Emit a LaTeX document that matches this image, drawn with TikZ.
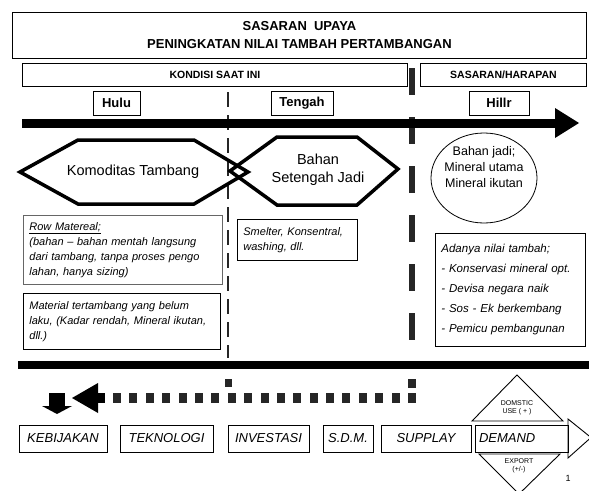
\documentclass[tikz,border=0pt]{standalone}
\usepackage{fontspec}
\setmainfont{Liberation Sans}
\usetikzlibrary{shapes.geometric}
\begin{document}
\begin{tikzpicture}[x=1pt,y=-1pt,
  thinbox/.style={draw, line width=0.9pt, inner sep=0pt},
  hdrtxt/.style={font=\bfseries\fontsize{10.5}{12}\selectfont},
  tagbox/.style={draw, line width=0.9pt, font=\bfseries\fontsize{13}{15}\selectfont, minimum height=24, inner sep=0pt},
  hexline/.style={line width=3.5pt, line join=miter},
  notebox/.style={draw, line width=0.8pt, font=\itshape\fontsize{11}{15}\selectfont, align=left, anchor=north west, inner xsep=6pt, inner ysep=0pt},
  botbox/.style={draw, line width=0.9pt, font=\itshape\fontsize{13}{15}\selectfont, minimum height=27, inner sep=0pt},
  smalltxt/.style={font=\fontsize{7}{8.5}\selectfont, align=center, inner sep=0pt},
  sq/.style={fill=black!85}
]
\useasboundingbox (0,0) rectangle (589,490);

% title
\node[thinbox, anchor=north west, minimum width=574, minimum height=46, align=center,
      font=\bfseries\fontsize{13}{18}\selectfont] (title) at (12,12)
      {SASARAN\ \ UPAYA\\PENINGKATAN NILAI TAMBAH PERTAMBANGAN};

% headers
\node[thinbox, hdrtxt, anchor=north west, minimum width=385, minimum height=23] (kondisi) at (22,63) {KONDISI SAAT INI};
\node[thinbox, hdrtxt, anchor=north west, minimum width=166, minimum height=23] (sasaran) at (420,63) {SASARAN/HARAPAN};

% dashed separators
\coordinate (d1top) at (228,92);
\coordinate (d1bot) at (228,358);
\coordinate (d2top) at (412,68);
\coordinate (d2bot) at (412,345);
\draw[line width=2.8pt, black!85, dash pattern=on 15pt off 8pt] (d1top) -- (d1bot);
\draw[line width=6pt, black!85, dash pattern=on 27pt off 22pt] (d2top) -- (d2bot);

% stage tags
\node[tagbox, fill=white, minimum width=47] (hulu) at (116.5,103) {Hulu};
\node[tagbox, fill=white, minimum width=62] (tengah) at (302,103) {Tengah};
\node[tagbox, fill=white, minimum width=60] (hilir) at (499,103) {Hillr};

% main arrow
\coordinate (mastart) at (22,123);
\coordinate (maend) at (557,123);
\draw[line width=9pt] (mastart) -- (maend);
\fill (555,108) -- (579,123) -- (555,138) -- cycle;

% hexagons
\draw[hexline] (20,172) -- (78,140) -- (194,140) -- (248,172) -- (194,204) -- (78,204) -- cycle;
\draw[hexline] (230,171) -- (277,137) -- (357,137) -- (398,169) -- (357,205) -- (277,205) -- cycle;
\node[font=\fontsize{14.5}{17}\selectfont] (komoditas) at (133,172) {Komoditas Tambang};
\node[font=\fontsize{14.5}{18}\selectfont, align=center] (setengah) at (318,170) {Bahan\\Setengah Jadi};

% ellipse
\node[draw, ellipse, line width=0.8pt, minimum width=106, minimum height=90, inner sep=0pt] (jadi) at (484,178) {};
\node[font=\fontsize{12.5}{16}\selectfont, align=center] (jaditxt) at (484,167) {Bahan jadi;\\Mineral utama\\Mineral ikutan};

% note boxes
\node[notebox, draw=black!60, text width=187, minimum height=69] (raw) at (23,215)
  {\underline{Row Matereal;}\\(bahan -- bahan mentah langsung\\dari tambang, tanpa proses pengo\\lahan, hanya sizing)};
\node[notebox, text width=185, minimum height=56] (material) at (23,293)
  {Material tertambang yang belum\\laku, (Kadar rendah, Mineral ikutan,\\dll.)};
\node[notebox, text width=108, minimum height=41] (smelter) at (237,219)
  {Smelter, Konsentral,\\washing, dll.};
\node[notebox, text width=138, minimum height=113, font=\itshape\fontsize{11.5}{20}\selectfont] (nilai) at (435,233)
  {Adanya nilai tambah;\\- Konservasi mineral opt.\\- Devisa negara naik\\- Sos - Ek berkembang\\- Pemicu pembangunan};

% thick bar
\fill (18,361) rectangle (589,369);

% dotted feedback arrow
\fill[sq] (224.5,379) rectangle (231.5,387);
\fill[sq] (408,379) rectangle (416,388);
\foreach \k in {0,...,18} {
  \fill[sq] ({113+16.39*\k},393) rectangle ({121+16.39*\k},403);
}
\fill (72,398) -- (98,383) -- (98,413) -- cycle;
\fill (97,393) rectangle (105,403);
% down arrow
\fill (49,393) rectangle (65,407);
\fill (42,406) -- (72,406) -- (57,414) -- cycle;

% bottom boxes
\node[botbox, minimum width=88] (kebijakan) at (63,438.5) {KEBIJAKAN};
\node[botbox, minimum width=93] (teknologi) at (166.5,438.5) {TEKNOLOGI};
\node[botbox, minimum width=81] (investasi) at (268.5,438.5) {INVESTASI};
\node[botbox, minimum width=50] (sdm) at (348,438.5) {S.D.M.};
\node[botbox, minimum width=90] (supplay) at (426,438.5) {SUPPLAY};
\node[botbox, minimum width=93, text width=85, align=left] (demand) at (521.5,438.5) {DEMAND};

% demand arrow head and triangles
\draw[line width=0.9pt] (568,419) -- (591,437.5) -- (568,458) -- cycle;
\draw[line width=0.9pt] (472,421) -- (517,375) -- (563,421) -- cycle;
\draw[line width=0.9pt] (479,454) -- (560,454) -- (519,494) -- cycle;
\node[smalltxt] (domestic) at (517,408) {DOMSTIC\\USE ( + )};
\node[smalltxt] (export) at (519,466) {EXPORT\\(+/-)};

\node[font=\fontsize{9}{10}\selectfont] (page) at (568,478) {1};
\end{tikzpicture}
\end{document}
